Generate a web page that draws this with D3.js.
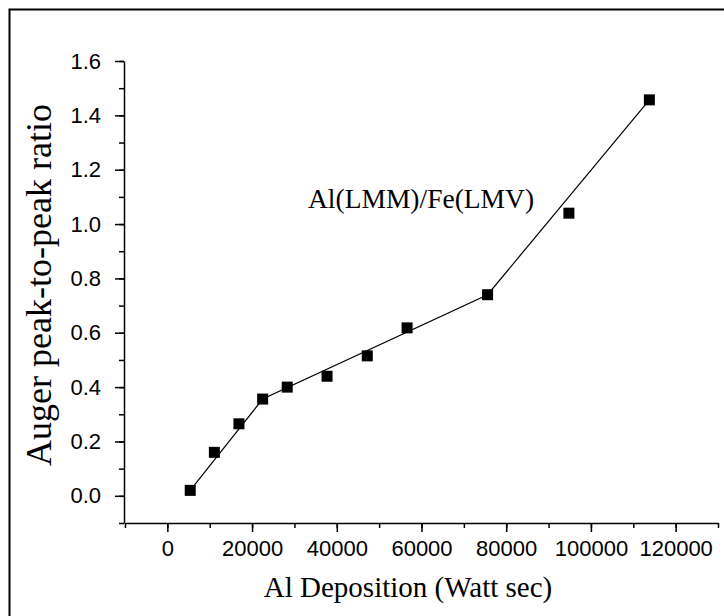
<!DOCTYPE html>
<html>
<head>
<meta charset="utf-8">
<script src="https://cdn.jsdelivr.net/npm/d3@7"></script>
<style>
    body { margin: 0; background: #fff; }
    svg { display: block; }
    .tick text { font-family: "Liberation Sans", Arial, sans-serif; font-size: 22px; fill: #000; }
    .ttl { font-family: "Liberation Serif", "Times New Roman", serif; fill: #000; }
</style>
</head>
<body>
<svg id="chart"></svg>
<script>
// measured points
let deposition = [5400, 11100, 16900, 22500, 28300, 37700, 47200, 56600, 75600, 94800, 113800];
let ratio = [0.02, 0.16, 0.265, 0.356, 0.40, 0.44, 0.515, 0.618, 0.74, 1.04, 1.457];
// piecewise fit line vertices
let fitX = [5400, 22500, 75600, 113800];
let fitY = [0.02, 0.356, 0.74, 1.457];
let xTicks = [0, 20000, 40000, 60000, 80000, 100000, 120000];
let yTicks = [0.0, 0.2, 0.4, 0.6, 0.8, 1.0, 1.2, 1.4, 1.6];

let graphicopt = {
    width: 724,
    height: 616,
    x0: 125, x1: 718,
    y0: 523, y1: 61
};

let svg = d3.select('#chart')
    .attr('width', graphicopt.width)
    .attr('height', graphicopt.height);

// outer frame (runs off the right/bottom edge)
svg.append('rect')
    .attr('x', 9.5).attr('y', 9.5)
    .attr('width', 800).attr('height', 700)
    .attr('fill', 'none')
    .attr('stroke', '#000')
    .attr('stroke-width', 2);

var x = d3.scaleLinear().domain([-10000, 130000]).range([graphicopt.x0, graphicopt.x1]);
var y = d3.scaleLinear().domain([-0.1, 1.6]).range([graphicopt.y0, graphicopt.y1]);

// minor ticks first
let xMinor = d3.range(-10000, 130001, 10000);
let yMinor = d3.range(-1, 17).map(d => d / 10);

let gx = svg.append('g').attr('transform', `translate(0,${graphicopt.y0})`);
gx.call(d3.axisBottom(x).tickValues(xMinor).tickSize(5).tickFormat('').tickSizeOuter(0));
gx.append('g').call(d3.axisBottom(x).tickValues(xTicks).tickSize(9).tickPadding(8).tickFormat(d3.format('d')).tickSizeOuter(0))
    .select('.domain').remove();

let gy = svg.append('g').attr('transform', `translate(${x(-10000) - 1},0)`);
gy.call(d3.axisLeft(y).tickValues(yMinor).tickSize(5).tickFormat('').tickSizeOuter(0));
gy.append('g').call(d3.axisLeft(y).tickValues(yTicks).tickSize(9).tickPadding(14).tickFormat(d3.format('.1f')).tickSizeOuter(0))
    .select('.domain').remove();

svg.selectAll('.domain, .tick line').attr('stroke', '#000').attr('stroke-width', 1.5);
svg.selectAll('.tick text').attr('font-family', null).attr('font-size', null);

// fit line
let line = d3.line().x(d => x(d[0])).y(d => y(d[1]));
svg.append('path')
    .datum(fitX.map((v, i) => [v, fitY[i]]))
    .attr('d', line)
    .attr('fill', 'none')
    .attr('stroke', '#000')
    .attr('stroke-width', 1.2);

// square markers
let s = 11;
svg.append('g').selectAll('rect')
    .data(deposition.map((v, i) => ({x: v, y: ratio[i]})))
    .enter()
    .append('rect')
    .attr('x', d => x(d.x) - s / 2)
    .attr('y', d => y(d.y) - s / 2)
    .attr('width', s)
    .attr('height', s)
    .attr('fill', '#000');

// annotation
svg.append('text').attr('class', 'ttl')
    .attr('x', 308).attr('y', y(1.0) - 16)
    .attr('font-size', 27.5)
    .text('Al(LMM)/Fe(LMV)');

// axis titles
svg.append('text').attr('class', 'ttl')
    .attr('x', 408).attr('y', 597)
    .attr('text-anchor', 'middle')
    .attr('font-size', 29)
    .text('Al Deposition (Watt sec)');

svg.append('text').attr('class', 'ttl')
    .attr('transform', 'translate(51,285) rotate(-90)')
    .attr('text-anchor', 'middle')
    .attr('font-size', 36)
    .text('Auger peak-to-peak ratio');
</script>
</body>
</html>
